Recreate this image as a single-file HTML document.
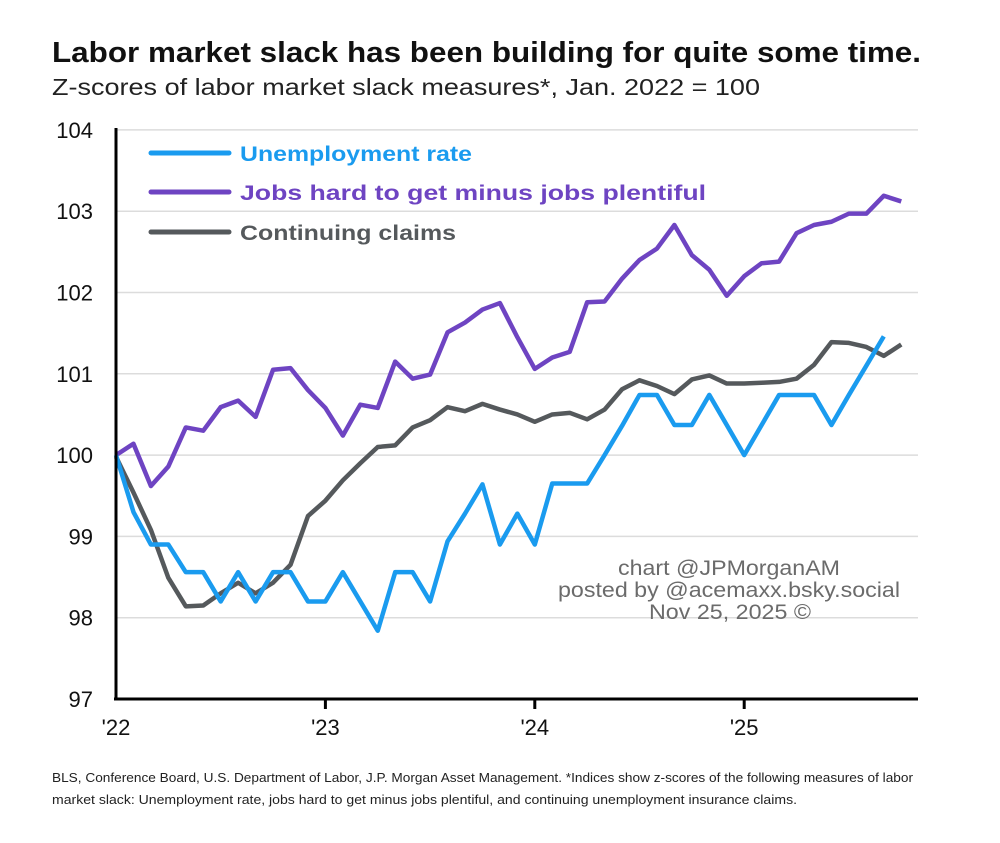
<!DOCTYPE html>
<html><head><meta charset="utf-8"><style>
body{margin:0;background:#fff;width:1000px;height:838px;overflow:hidden;font-family:"Liberation Sans",Arial,sans-serif}
</style></head><body>
<svg width="1000" height="838" viewBox="0 0 1000 838">
<text x="52" y="62" font-size="28.5" font-weight="bold" fill="#111" textLength="869" lengthAdjust="spacingAndGlyphs">Labor market slack has been building for quite some time.</text>
<text x="52" y="95" font-size="23" fill="#222" textLength="708" lengthAdjust="spacingAndGlyphs">Z-scores of labor market slack measures*, Jan. 2022 = 100</text>
<g id="grid"></g>
<g id="yticks"></g>
<g id="xticks"></g>
<g id="series"></g>
<line x1="116" y1="128" x2="116" y2="700" stroke="#000" stroke-width="3"/>
<line x1="114" y1="699" x2="918" y2="699" stroke="#000" stroke-width="3"/>
<g>
<line x1="151" y1="153" x2="229" y2="153" stroke="#1a9bef" stroke-width="5" stroke-linecap="round"/>
<text x="240" y="161" font-size="21.5" font-weight="bold" fill="#1a9bef" textLength="232" lengthAdjust="spacingAndGlyphs">Unemployment rate</text>
<line x1="151" y1="192" x2="229" y2="192" stroke="#6e44c2" stroke-width="5" stroke-linecap="round"/>
<text x="240" y="200" font-size="21.5" font-weight="bold" fill="#6e44c2" textLength="466" lengthAdjust="spacingAndGlyphs">Jobs hard to get minus jobs plentiful</text>
<line x1="151" y1="232" x2="229" y2="232" stroke="#55595c" stroke-width="5" stroke-linecap="round"/>
<text x="240" y="240" font-size="21.5" font-weight="bold" fill="#55595c" textLength="216" lengthAdjust="spacingAndGlyphs">Continuing claims</text>
</g>
<g fill="#6b6b6b" font-size="21">
<text x="618" y="575" textLength="222" lengthAdjust="spacingAndGlyphs">chart @JPMorganAM</text>
<text x="558" y="597" textLength="342" lengthAdjust="spacingAndGlyphs">posted by @acemaxx.bsky.social</text>
<text x="649" y="619" textLength="162" lengthAdjust="spacingAndGlyphs">Nov 25, 2025 ©</text>
</g>
<g fill="#222" font-size="13">
<text x="52" y="782" textLength="861" lengthAdjust="spacingAndGlyphs">BLS, Conference Board, U.S. Department of Labor, J.P. Morgan Asset Management. *Indices show z-scores of the following measures of labor</text>
<text x="52" y="804" textLength="745" lengthAdjust="spacingAndGlyphs">market slack: Unemployment rate, jobs hard to get minus jobs plentiful, and continuing unemployment insurance claims.</text>
</g>
</svg>
<script>
const yTicks=[97,98,99,100,101,102,103,104];
const xTickLabels=["'22","'23","'24","'25"];
const xTickMonths=[0,12,24,36];
const unemployment=[100,99.3,98.9,98.9,98.56,98.56,98.2,98.56,98.2,98.56,98.56,98.2,98.2,98.56,98.2,97.84,98.56,98.56,98.2,98.94,99.28,99.64,98.9,99.28,98.9,99.65,99.65,99.65,100,100.36,100.74,100.74,100.37,100.37,100.74,100.37,100,100.37,100.74,100.74,100.74,100.37,100.74,101.1,101.46];
const jobsHard=[100,100.14,99.62,99.86,100.34,100.3,100.59,100.67,100.47,101.05,101.07,100.8,100.58,100.24,100.62,100.58,101.15,100.94,100.99,101.51,101.63,101.79,101.87,101.45,101.06,101.2,101.27,101.88,101.89,102.17,102.4,102.54,102.83,102.46,102.28,101.96,102.2,102.36,102.38,102.73,102.83,102.87,102.97,102.97,103.19,103.12];
const claims=[99.98,99.54,99.08,98.49,98.14,98.15,98.3,98.43,98.3,98.43,98.65,99.25,99.44,99.69,99.9,100.1,100.12,100.34,100.43,100.59,100.54,100.63,100.56,100.5,100.41,100.5,100.52,100.44,100.56,100.81,100.92,100.85,100.75,100.93,100.98,100.88,100.88,100.89,100.9,100.94,101.11,101.39,101.38,101.33,101.22,101.36];
const NS="http://www.w3.org/2000/svg";
const xs=i=>116+i*17.45;
const ys=v=>699-(v-97)*81.3;
function mk(tag,attrs,parent){const e=document.createElementNS(NS,tag);for(const k in attrs)e.setAttribute(k,attrs[k]);parent.appendChild(e);return e;}
const grid=document.getElementById('grid'),yt=document.getElementById('yticks'),xt=document.getElementById('xticks'),sr=document.getElementById('series');
yTicks.forEach(v=>{
 if(v>97){const g=mk('line',{x1:116,x2:918,y1:ys(v),y2:ys(v),stroke:'#dcdcdc','stroke-width':1.5},grid);
 
 }
 const t=mk('text',{x:93,y:ys(v)+8,'font-size':22,'text-anchor':'end',fill:'#111'},yt);t.textContent=v;
 
 
});
xTickMonths.forEach((m,i)=>{
 if(m>0){const tk=mk('line',{x1:xs(m),x2:xs(m),y1:699,y2:709,stroke:'#000','stroke-width':3},xt);
 
 }
 const t=mk('text',{x:xs(m),y:735,'font-size':22,'text-anchor':'middle',fill:'#111'},xt);t.textContent=xTickLabels[i];
 
 
});
function line(data,color,name){
 const p=mk('polyline',{points:data.map((v,i)=>xs(i)+','+ys(v)).join(' '),fill:'none',stroke:color,'stroke-width':4.5,'stroke-linejoin':'round'},sr);
 
 
}
line(jobsHard,'#6e44c2','line-jobs-hard-to-get');
line(claims,'#55595c','line-continuing-claims');
line(unemployment,'#1a9bef','line-unemployment-rate');
</script>
</body></html>
